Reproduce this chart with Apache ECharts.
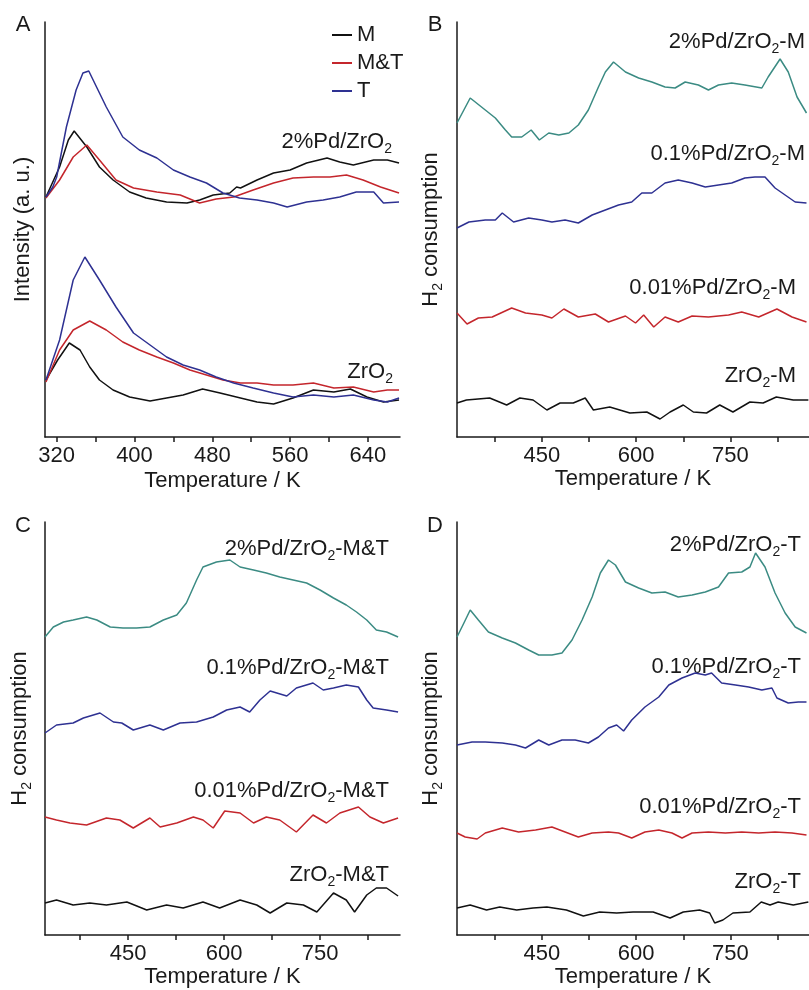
<!DOCTYPE html>
<html>
<head>
<meta charset="utf-8">
<title>TPR profiles</title>
<script src="https://cdn.jsdelivr.net/npm/echarts@6/dist/echarts.min.js"></script>
<style>
  html, body { margin: 0; padding: 0; background: #ffffff; }
  #main { width: 809px; height: 990px; }
</style>
</head>
<body>
<div id="main"></div>
<script>
// values: [temperature K, height above axis (a.u.)]
// panel A
const aPdM  = [[309,240],[323,270],[332,297],[338,306],[351,290],[364,270],[378,257],[395,245],[412,239],[433,235],[454,234],[467,237],[481,242],[498,244],[505,250],[509,249],[526,257],[543,264],[560,267],[577,274],[598,279],[611,275],[625,272],[646,277],[660,277],[672,274]];
const aPdMT = [[309,239],[323,257],[337,280],[351,292],[364,277],[381,257],[399,249],[423,245],[447,242],[467,234],[484,238],[502,240],[522,247],[543,254],[563,259],[584,260],[601,260],[618,262],[635,257],[653,250],[672,244]];
const aPdT  = [[309,240],[316,250],[320,260],[330,310],[340,347],[347,364],[353,366],[371,330],[388,300],[405,287],[423,279],[440,267],[457,260],[474,254],[491,244],[508,239],[526,237],[543,234],[557,230],[577,235],[594,237],[611,240],[628,245],[646,245],[656,234],[672,235]];
const aZrM  = [[309,57],[321,77],[333,94],[344,87],[354,70],[364,57],[378,47],[395,40],[416,36],[433,39],[450,42],[470,48],[488,44],[509,39],[526,35],[543,33],[563,39],[584,47],[605,45],[622,48],[639,40],[656,35],[672,37]];
const aZrMT = [[309,55],[323,87],[337,107],[354,116],[371,107],[388,95],[405,87],[423,80],[440,74],[457,67],[474,62],[491,57],[509,54],[526,54],[543,52],[563,52],[584,54],[605,49],[625,50],[646,45],[660,47],[672,47]];
const aZrT  = [[309,57],[323,97],[337,157],[349,180],[364,157],[381,130],[399,104],[416,92],[433,80],[450,72],[467,67],[484,60],[502,54],[522,49],[543,44],[563,40],[584,42],[605,40],[625,42],[646,37],[660,35],[672,39]];

// panel B (-M)
const bPd2  = [[315,314],[336,339],[360,327],[376,319],[392,307],[402,300],[418,300],[433,307],[446,297],[461,304],[477,302],[493,304],[508,312],[524,327],[540,350],[551,365],[564,375],[583,365],[604,359],[625,355],[646,350],[662,349],[678,355],[699,352],[715,347],[731,352],[752,354],[773,352],[800,349],[810,360],[829,378],[842,365],[856,340],[871,324]];
const bPd01 = [[315,209],[334,215],[360,217],[376,217],[387,224],[405,215],[429,219],[450,217],[466,215],[487,217],[508,214],[530,222],[551,227],[572,232],[593,235],[609,244],[625,244],[646,254],[667,257],[689,254],[710,250],[731,252],[752,254],[773,259],[789,260],[805,260],[821,249],[837,242],[853,235],[871,234]];
const bPd001= [[315,124],[331,113],[349,119],[371,120],[402,129],[424,124],[450,122],[466,119],[485,128],[508,120],[535,123],[556,115],[583,121],[599,114],[612,122],[628,110],[646,120],[667,115],[689,121],[715,120],[747,122],[768,125],[795,120],[824,128],[848,120],[871,115]];
const bZr   = [[315,34],[330,37],[367,39],[394,32],[415,39],[436,37],[458,27],[479,34],[500,34],[519,39],[532,27],[558,30],[590,24],[617,25],[638,18],[654,25],[675,32],[691,25],[712,24],[733,32],[754,25],[781,35],[802,34],[823,40],[850,37],[874,37]];

// panel C (-M&T)
const cPd2  = [[320,298],[333,308],[349,313],[364,315],[385,318],[401,315],[422,308],[442,307],[463,307],[484,308],[505,315],[526,320],[541,332],[557,355],[567,368],[588,373],[609,375],[625,368],[646,365],[666,362],[687,358],[708,355],[729,352],[750,345],[771,337],[791,330],[807,323],[823,315],[838,305],[854,303],[872,298]];
const cPd01 = [[320,202],[338,210],[364,212],[380,217],[406,222],[427,213],[440,212],[458,205],[484,210],[505,205],[531,212],[557,213],[583,218],[604,225],[625,228],[640,223],[656,235],[672,244],[698,239],[713,247],[739,252],[755,245],[771,247],[791,250],[810,248],[823,235],[833,227],[854,225],[872,223]];
const cPd001= [[320,118],[338,115],[359,112],[385,110],[416,117],[437,115],[458,107],[484,117],[500,108],[526,112],[552,118],[567,115],[583,107],[601,124],[625,122],[646,112],[666,118],[687,115],[713,103],[739,120],[760,112],[781,122],[810,128],[828,118],[849,112],[872,117]];
const cZr   = [[320,32],[338,35],[364,30],[390,32],[416,30],[448,33],[479,25],[510,30],[536,27],[567,33],[593,27],[625,35],[651,30],[672,22],[698,32],[724,30],[745,23],[771,42],[791,35],[804,23],[823,40],[838,47],[854,47],[872,39]];

// panel D (-T)
const dPd2  = [[315,298],[326,312],[336,325],[349,315],[365,303],[387,297],[408,292],[429,285],[445,280],[466,280],[482,282],[498,295],[514,315],[530,338],[543,362],[556,375],[567,370],[583,353],[604,347],[625,342],[646,343],[667,338],[689,340],[710,343],[731,348],[747,362],[768,363],[781,368],[790,382],[805,368],[821,342],[837,322],[853,308],[871,302]];
const dPd01 = [[315,190],[339,193],[360,193],[387,192],[408,190],[424,187],[445,195],[461,190],[482,195],[503,195],[524,192],[540,198],[556,207],[569,210],[580,204],[593,215],[614,228],[636,238],[652,250],[673,257],[694,262],[710,260],[720,262],[736,252],[758,250],[779,248],[800,245],[816,247],[824,237],[842,232],[858,233],[871,233]];
const dPd001= [[315,102],[328,98],[347,96],[360,102],[387,107],[413,103],[440,105],[466,108],[487,103],[508,98],[530,102],[556,103],[572,102],[593,97],[614,103],[636,105],[657,102],[673,97],[689,102],[715,103],[742,102],[768,103],[795,102],[821,103],[848,102],[871,100]];
const dZr   = [[315,27],[336,30],[362,25],[383,28],[410,25],[436,27],[458,28],[489,25],[516,19],[542,23],[569,22],[595,23],[627,23],[654,17],[675,23],[701,25],[717,22],[725,12],[738,15],[754,22],[781,23],[799,33],[813,30],[826,33],[850,30],[874,33]];

// tick labels
const aTicks = [320, 360, 400, 440, 480, 520, 560, 600, 640];
const aLabels = [320, 400, 480, 560, 640];
const bTicks = [375, 450, 525, 600, 675, 750, 825];
const bLabels = [450, 600, 750];

const FONT = '"Liberation Sans", Arial, Helvetica, sans-serif';
const INK = '#1a1a1a';
const BLACK = '#111111', RED = '#c4262c', NAVY = '#2e3192', TEAL = '#3b8b83';
const SUB = { fontSize: 14, fontFamily: FONT, color: INK, fill: INK, padding: [14, 0, 0, 0] };

const chart = echarts.init(document.getElementById('main'));

function xAxis(grid, min, max, ticks, labels, nameGap) {
  return {
    type: 'value', gridIndex: grid, min: min, max: max,
    name: 'Temperature / K', nameLocation: 'middle', nameGap: nameGap,
    nameTextStyle: { fontSize: 22, fontFamily: FONT, color: INK },
    axisLine: { lineStyle: { color: INK, width: 1.5 } },
    axisTick: { customValues: ticks, length: 5, lineStyle: { color: INK, width: 1.5 } },
    axisLabel: { customValues: labels, fontSize: 22, fontFamily: FONT, color: INK, margin: 8 },
    splitLine: { show: false }
  };
}
function yAxis(grid, max, name, nameGap) {
  return {
    type: 'value', gridIndex: grid, min: 0, max: max,
    name: name, nameLocation: 'middle', nameGap: nameGap,
    nameTextStyle: { fontSize: 22, fontFamily: FONT, color: INK, rich: { s: SUB } },
    axisLine: { show: true, lineStyle: { color: INK, width: 1.5 } },
    axisTick: { show: false },
    axisLabel: { show: false },
    splitLine: { show: false }
  };
}
function line(name, idx, data, color) {
  return {
    name: name, type: 'line', xAxisIndex: idx, yAxisIndex: idx,
    data: data, showSymbol: false, symbol: 'none', smooth: false,
    lineStyle: { color: color, width: 1.5 }, itemStyle: { color: color },
    animation: false, silent: true
  };
}
function label(text, right, cy) {
  return {
    type: 'text', x: right, y: cy,
    style: {
      text: text, fill: INK, font: '22px ' + FONT,
      align: 'right', verticalAlign: 'middle',
      rich: { s: SUB }
    }
  };
}
function letter(text, cx, cy) {
  return {
    type: 'text', x: cx, y: cy,
    style: { text: text, fill: INK, font: '22px ' + FONT, align: 'center', verticalAlign: 'middle' }
  };
}

chart.setOption({
  backgroundColor: '#ffffff',
  animation: false,
  grid: [
    { left: 45, top: 22, width: 355, height: 415 },
    { left: 457, top: 22, width: 352, height: 415 },
    { left: 45, top: 522, width: 355, height: 413 },
    { left: 457, top: 522, width: 352, height: 413 }
  ],
  xAxis: [
    xAxis(0, 308, 673, aTicks, aLabels, 33),
    xAxis(1, 315, 875, bTicks, bLabels, 29),
    xAxis(2, 320, 875, bTicks, bLabels, 30),
    xAxis(3, 315, 875, bTicks, bLabels, 30)
  ],
  yAxis: [
    yAxis(0, 415, 'Intensity (a. u.)', 11),
    yAxis(1, 415, 'H{s|2} consumption', 12),
    yAxis(2, 413, 'H{s|2} consumption', 11),
    yAxis(3, 413, 'H{s|2} consumption', 12)
  ],
  legend: {
    data: ['M', 'M&T', 'T'],
    orient: 'vertical', left: 327, top: 19,
    icon: 'rect', itemWidth: 20, itemHeight: 2, itemGap: 6,
    selectedMode: false,
    textStyle: { fontSize: 22, lineHeight: 22, fontFamily: FONT, color: INK }
  },
  series: [
    line('M', 0, aPdM, BLACK),
    line('M&T', 0, aPdMT, RED),
    line('T', 0, aPdT, NAVY),
    line('M', 0, aZrM, BLACK),
    line('M&T', 0, aZrMT, RED),
    line('T', 0, aZrT, NAVY),

    line('2%Pd/ZrO2-M', 1, bPd2, TEAL),
    line('0.1%Pd/ZrO2-M', 1, bPd01, NAVY),
    line('0.01%Pd/ZrO2-M', 1, bPd001, RED),
    line('ZrO2-M', 1, bZr, BLACK),

    line('2%Pd/ZrO2-M&T', 2, cPd2, TEAL),
    line('0.1%Pd/ZrO2-M&T', 2, cPd01, NAVY),
    line('0.01%Pd/ZrO2-M&T', 2, cPd001, RED),
    line('ZrO2-M&T', 2, cZr, BLACK),

    line('2%Pd/ZrO2-T', 3, dPd2, TEAL),
    line('0.1%Pd/ZrO2-T', 3, dPd01, NAVY),
    line('0.01%Pd/ZrO2-T', 3, dPd001, RED),
    line('ZrO2-T', 3, dZr, BLACK)
  ],
  graphic: [
    letter('A', 23, 25),
    letter('B', 435, 25),
    letter('C', 23, 526),
    letter('D', 435, 526),

    label('2%Pd/ZrO{s|2}', 392, 142),
    label('ZrO{s|2}', 393, 372),

    label('2%Pd/ZrO{s|2}-M', 805, 42),
    label('0.1%Pd/ZrO{s|2}-M', 805, 154),
    label('0.01%Pd/ZrO{s|2}-M', 796, 288),
    label('ZrO{s|2}-M', 796, 376),

    label('2%Pd/ZrO{s|2}-M&T', 389, 549),
    label('0.1%Pd/ZrO{s|2}-M&T', 389, 668),
    label('0.01%Pd/ZrO{s|2}-M&T', 389, 791),
    label('ZrO{s|2}-M&T', 389, 875),

    label('2%Pd/ZrO{s|2}-T', 801, 545),
    label('0.1%Pd/ZrO{s|2}-T', 801, 667),
    label('0.01%Pd/ZrO{s|2}-T', 801, 807),
    label('ZrO{s|2}-T', 801, 882)
  ]
});
</script>
</body>
</html>
